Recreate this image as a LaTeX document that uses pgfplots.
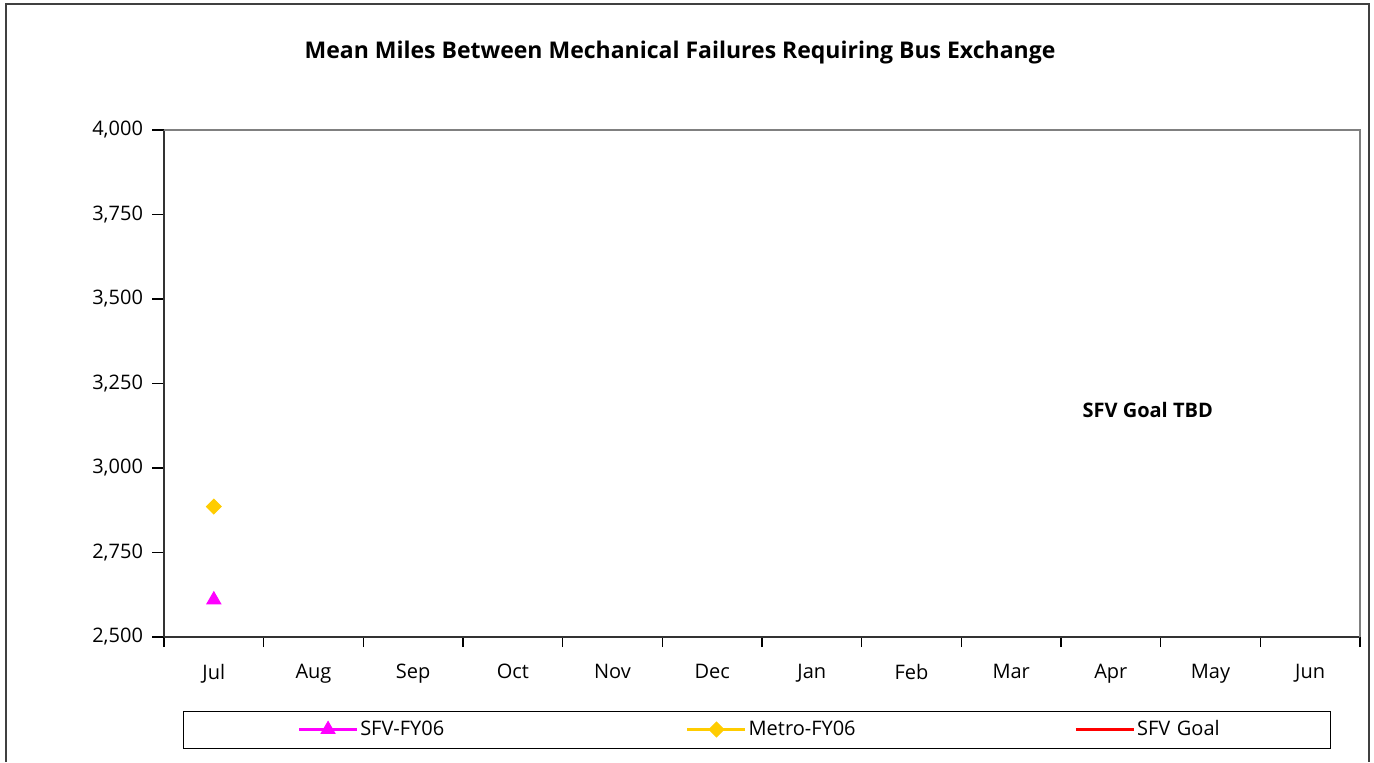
\documentclass[border=0pt]{standalone}
\usepackage{fontspec}
\setmainfont{Open Sans}
\usepackage{pgfplots}
\pgfplotsset{compat=1.18}
\definecolor{SfvMag}{RGB}{255,0,255}
\definecolor{MetroGold}{RGB}{255,204,0}
\definecolor{GoalRed}{RGB}{255,0,0}

\begin{document}
\begin{tikzpicture}
  % page frame, 1px = 0.5pt
  \useasboundingbox (0,0) rectangle (687pt,381pt);
  \draw[line width=1pt, black!75] (3pt,0) -- (3pt,379pt) -- (684.5pt,379pt) -- (684.5pt,0);
  \node[font=\fontsize{11.5}{13}\selectfont\bfseries] at (340pt,354.5pt)
    {Mean Miles Between Mechanical Failures Requiring Bus Exchange};
  \draw[black, line width=0.5pt] (91.5pt,7pt) rectangle (665pt,25.5pt);

  \begin{axis}[
      at={(82pt,62.5pt)}, anchor=south west,
      scale only axis,
      width=598pt, height=253.5pt,
      xmin=-0.5, xmax=11.5,
      ymin=2500, ymax=4000,
      ytick={2500,2750,...,4000},
      xtick={0,...,11},
      xticklabels={Jul,Aug,Sep,Oct,Nov,Dec,Jan,Feb,Mar,Apr,May,Jun},
      minor xtick={-0.5,0.5,...,11.5},
      major x tick style={draw=none},
      tick align=outside,
      tick style={black, line width=0.6pt},
      major tick length=6pt, minor tick length=5pt,
      axis x line*=bottom, axis y line*=left,
      axis line style={black!80, line width=0.8pt, -},
      ticklabel style={font=\fontsize{10}{12}\selectfont},
      /pgf/number format/assume math mode=true,
      /pgf/number format/1000 sep={,},
      yticklabel style={xshift=-1pt},
      xticklabel style={yshift=-4pt},
      legend columns=3,
      legend style={at={(0.5957,-0.1824)}, anchor=center, draw=none, fill=none,
        font=\fontsize{10}{12}\selectfont,
        nodes={text width=158pt, align=left, inner sep=1pt},
        /tikz/every even column/.append style={column sep=4pt}},
      legend image code/.code={
        \draw[mark repeat=2, mark phase=2, #1] plot coordinates {(0pt,0pt) (14.5pt,0pt) (29pt,0pt)};},
      clip=false,
    ]
    \draw[gray, line width=0.8pt] (rel axis cs:0,1) -- (rel axis cs:1,1) -- (rel axis cs:1,0);
    \addplot[SfvMag, line width=1.2pt, mark=triangle*, mark size=4pt,
      mark options={fill=SfvMag, draw=SfvMag, line width=0.5pt}] coordinates {(0,2610)};
    \addlegendentry{SFV-FY06}
    \addplot[MetroGold, line width=1.2pt, mark=square*, mark size=2.6pt,
      mark options={fill=MetroGold, draw=MetroGold, rotate=45, line width=0.5pt}] coordinates {(0,2886)};
    \addlegendentry{Metro-FY06}
    \addlegendimage{GoalRed, line width=1.2pt}
    \addlegendentry{SFV Goal}
    \node[font=\fontsize{10}{12}\selectfont\bfseries] at (axis cs:9.37,3172) {SFV Goal TBD};
  \end{axis}
\end{tikzpicture}
\end{document}
